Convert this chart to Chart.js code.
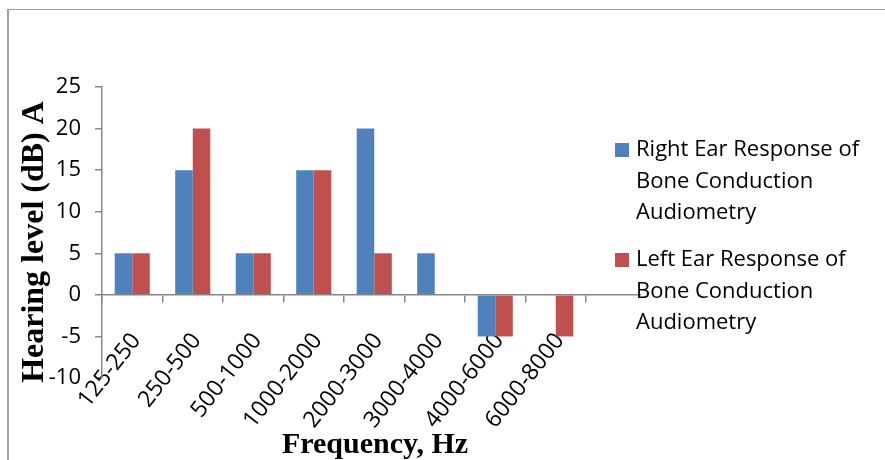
<!DOCTYPE html>
<html>
<head>
<meta charset="utf-8">
<script src="https://cdn.jsdelivr.net/npm/chart.js@4.4.1/dist/chart.umd.min.js"></script>
<style>
  html, body { margin: 0; padding: 0; background: #fff; }
  #marco { position: absolute; left: 0; top: 0; width: 885px; height: 460px; }
  #borde { position: absolute; left: 7px; top: 9px; width: 900px; height: 480px;
           border-left: 2px solid #a0a0a0; border-top: 1px solid #a0a0a0; }
  canvas { position: absolute; left: 0; top: 0; }
</style>
</head>
<body>
<div id="marco">
  <div id="borde"></div>
  <canvas id="grafica" width="885" height="460"></canvas>
</div>
<script>
// bandas de frecuencia (Hz)
var frecuencias = ['125-250', '250-500', '500-1000', '1000-2000', '2000-3000', '3000-4000', '4000-6000', '6000-8000'];
// nivel de audición (dB) por oído
var oidoDerecho = [5, 15, 5, 15, 20, 5, -5, 0];
var oidoIzquierdo = [5, 20, 5, 15, 5, 0, -5, -5];
// textos de la leyenda, una línea por elemento
var leyendaDerecho = ['Right Ear Response of', 'Bone Conduction', 'Audiometry'];
var leyendaIzquierdo = ['Left Ear Response of', 'Bone Conduction', 'Audiometry'];

var azul = '#4F81BD';
var rojo = '#C0504D';
var gris = '#878787';
var letra = '"Open Sans", sans-serif';
var serif = '"Liberation Serif", "Times New Roman", serif';

// leyenda de varias líneas y títulos de los ejes
var extras = {
  id: 'extras',
  afterDraw: function(chart) {
    var ctx = chart.ctx;
    ctx.save();
    // el eje x sigue un poco por debajo de la leyenda
    var y0 = chart.scales.y.getPixelForValue(0);
    ctx.strokeStyle = gris;
    ctx.lineWidth = 1.5;
    ctx.beginPath();
    ctx.moveTo(chart.chartArea.right, y0);
    ctx.lineTo(641, y0);
    ctx.stroke();

    var items = [[azul, leyendaDerecho, 150], [rojo, leyendaIzquierdo, 260]];
    ctx.font = '22px ' + letra;
    ctx.textBaseline = 'middle';
    items.forEach(function(it) {
      ctx.fillStyle = it[0];
      ctx.fillRect(615, it[2] - 7, 14, 14);
      ctx.fillStyle = '#000';
      it[1].forEach(function(linea, i) {
        ctx.fillText(linea, 636, it[2] + i * 31.5);
      });
    });

    ctx.font = 'bold 30px ' + serif;
    ctx.textAlign = 'center';
    ctx.textBaseline = 'alphabetic';
    ctx.fillText('Frequency, Hz', 375, 453);

    ctx.font = 'bold 32px ' + serif;
    ctx.textBaseline = 'middle';
    ctx.translate(35, 242);
    ctx.rotate(-Math.PI / 2);
    ctx.fillText('Hearing level (dB) A', 0, 0);
    ctx.restore();
  }
};

var grafica = new Chart(document.getElementById('grafica').getContext('2d'), {
  type: 'bar',
  data: {
    labels: frecuencias,
    datasets: [{
      label: leyendaDerecho.join(' '),
      data: oidoDerecho,
      backgroundColor: azul
    }, {
      label: leyendaIzquierdo.join(' '),
      data: oidoIzquierdo,
      backgroundColor: rojo
    }]
  },
  options: {
    responsive: false,
    animation: false,
    layout: {
      padding: { left: 14, top: 87, right: 299, bottom: 82 }
    },
    datasets: {
      bar: { categoryPercentage: 0.58, barPercentage: 1 }
    },
    plugins: {
      legend: { display: false },
      tooltip: { enabled: false }
    },
    scales: {
      x: {
        position: { y: 0 },
        offset: true,
        afterCalculateLabelRotation: function(escala) { escala.labelRotation = 52; },
        grid: { offset: true, drawOnChartArea: false, tickLength: 7, color: gris, lineWidth: 1.5 },
        border: { color: gris, width: 1.5 },
        ticks: {
          color: '#000',
          font: { family: letra, size: 23 },
          padding: 26,
          labelOffset: 4,
          autoSkip: false
        }
      },
      y: {
        min: -10,
        max: 25,
        afterFit: function(escala) { escala.width = 88; },
        grid: { drawOnChartArea: false, tickLength: 7, color: gris, lineWidth: 1.5 },
        border: { color: gris, width: 1.5 },
        ticks: {
          stepSize: 5,
          color: '#000',
          font: { family: letra, size: 22 },
          padding: 14
        }
      }
    }
  },
  plugins: [extras]
});
</script>
</body>
</html>
